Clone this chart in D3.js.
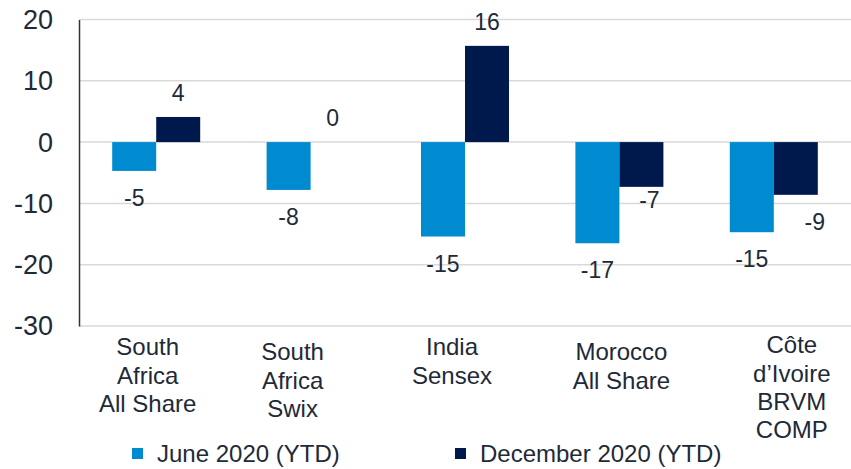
<!DOCTYPE html>
<html>
<head>
<meta charset="utf-8">
<script src="https://cdn.jsdelivr.net/npm/d3@7"></script>
<style>
  body { margin: 0; background: #fff; }
  svg text { font-family: "Liberation Sans", Arial, sans-serif; fill: #1e2a38; }
</style>
</head>
<body>
<svg id="chart" width="851" height="469"></svg>
<script>
// data
var categories = [
  ["South", "Africa", "All Share"],
  ["South", "Africa", "Swix"],
  ["India", "Sensex"],
  ["Morocco", "All Share"],
  ["Côte", "d\u2019Ivoire", "BRVM", "COMP"]
];
var seriesNames = ["June 2020 (YTD)", "December 2020 (YTD)"];
var june = [-4.7, -7.8, -15.4, -16.5, -14.7];
var december = [4.1, 0, 15.7, -7.3, -8.6];
var juneLabels = ["-5", "-8", "-15", "-17", "-15"];
var decemberLabels = ["4", "0", "16", "-7", "-9"];
var yTicks = [20, 10, 0, -10, -20, -30];

var colors = ["#008bd1", "#00194c"];

var svg = d3.select("#chart");
var margin = {top: 19.5, right: 0, bottom: 143, left: 79};
var width = +svg.attr("width") - margin.left - margin.right,
    height = +svg.attr("height") - margin.top - margin.bottom;

var x0 = d3.scaleBand()
    .domain(d3.range(categories.length))
    .range([margin.left, margin.left + width])
    .paddingInner(0.43)
    .paddingOuter(0.215);

var x1 = d3.scaleBand()
    .domain([0, 1])
    .range([0, x0.bandwidth()]);

var y = d3.scaleLinear()
    .domain([-30, 20])
    .range([margin.top + height, margin.top]);

// gridlines
svg.append("g")
    .selectAll("line")
    .data(yTicks)
    .join("line")
    .attr("x1", margin.left)
    .attr("x2", margin.left + width)
    .attr("y1", function(d) { return y(d); })
    .attr("y2", function(d) { return y(d); })
    .attr("stroke", "#d9d9d9")
    .attr("stroke-width", 1.5);

// y axis, plain hyphen for negatives like the original
var yAxis = d3.axisLeft(y)
    .tickValues(yTicks)
    .tickFormat(function(d) { return String(d); })
    .tickSize(0)
    .tickPadding(26);
var gy = svg.append("g")
    .attr("transform", "translate(" + margin.left + ",0)")
    .call(yAxis);
gy.select(".domain").attr("stroke", "#253746").attr("stroke-width", 1.5);
gy.selectAll("text")
    .style("font-size", "27px")
    .attr("dy", "0.33em");

// bars
var rows = [];
categories.forEach(function(c, i) {
  rows.push({cat: i, s: 0, v: june[i], label: juneLabels[i]});
  rows.push({cat: i, s: 1, v: december[i], label: decemberLabels[i]});
});

svg.append("g")
    .selectAll("rect")
    .data(rows.filter(function(d) { return d.v !== 0; }))
    .join("rect")
    .attr("x", function(d) { return x0(d.cat) + x1(d.s); })
    .attr("width", x1.bandwidth())
    .attr("y", function(d) { return y(Math.max(0, d.v)); })
    .attr("height", function(d) { return Math.abs(y(d.v) - y(0)); })
    .attr("fill", function(d) { return colors[d.s]; });

// value labels (a couple are nudged like the original)
var nudge = {"3-1": [8, -14], "4-1": [19, 0]};
svg.append("g")
    .selectAll("text")
    .data(rows)
    .join("text")
    .attr("text-anchor", "middle")
    .style("font-size", "23px")
    .attr("x", function(d) {
      var n = nudge[d.cat + "-" + d.s] || [0, 0];
      return x0(d.cat) + x1(d.s) + x1.bandwidth() / 2 + n[0];
    })
    .attr("y", function(d) {
      var n = nudge[d.cat + "-" + d.s] || [0, 0];
      return (d.v < 0 ? y(d.v) + 27 : y(d.v) - 24) + n[1];
    })
    .attr("dy", "0.35em")
    .text(function(d) { return d.label; });

// category labels
var catShift = [-8.5, -18, -13, 2, 18];
var catTop = [347, 352, 347, 352, 345];
var cats = svg.append("g")
    .selectAll("text")
    .data(categories)
    .join("text")
    .attr("text-anchor", "middle")
    .style("font-size", "24px")
    .attr("transform", function(d, i) {
      return "translate(" + (x0(i) + x0.bandwidth() / 2 + catShift[i]) + "," + catTop[i] + ")";
    });
cats.selectAll("tspan")
    .data(function(d) { return d; })
    .join("tspan")
    .attr("x", 0)
    .attr("y", function(d, i) { return i * 28.3; })
    .attr("dy", "0.35em")
    .text(function(d) { return d; });

// legend
var legendX = [132, 455];
var legend = svg.append("g")
    .selectAll("g")
    .data(seriesNames)
    .join("g")
    .attr("transform", function(d, i) { return "translate(" + legendX[i] + ",454)"; });
legend.append("rect")
    .attr("x", 0).attr("y", -6)
    .attr("width", 11).attr("height", 11)
    .attr("fill", function(d, i) { return colors[i]; });
legend.append("text")
    .attr("x", 25)
    .attr("dy", "0.35em")
    .style("font-size", "24px")
    .text(function(d) { return d; });
</script>
</body>
</html>
